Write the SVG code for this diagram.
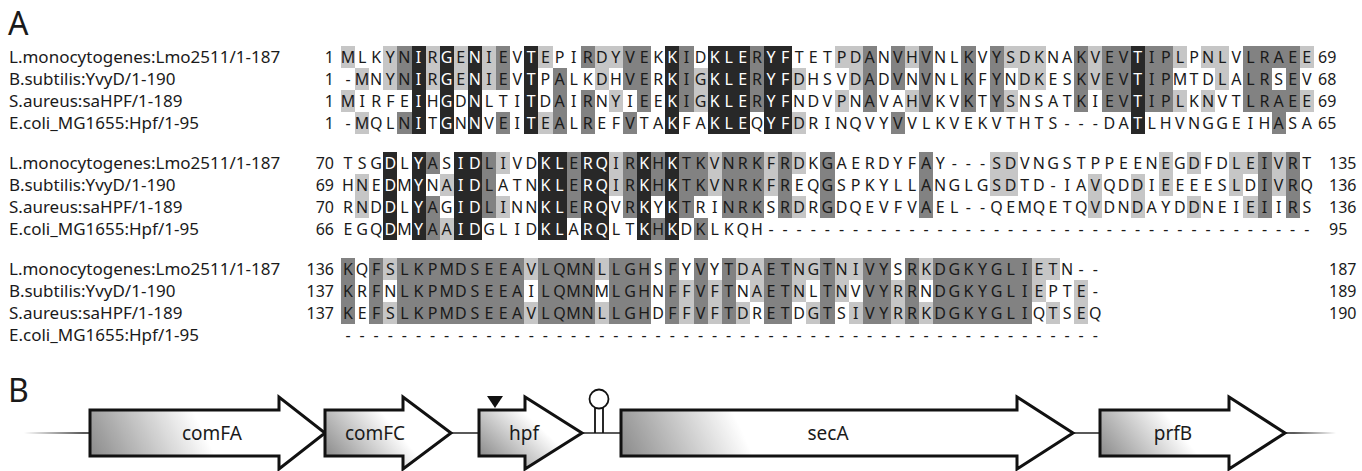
<svg xmlns="http://www.w3.org/2000/svg" width="1362" height="471" viewBox="0 0 1362 471">
<style>
.t{font-family:"Noto Sans","Open Sans",sans-serif;fill:#1a1a1a}
.lab{font-size:17px}
.s{font-size:16px;text-anchor:middle}
.w{fill:#fff}
.ne{font-size:16px;text-anchor:end}
.nr{font-size:16px}
.big{font-size:32px}
.gn{font-size:19px;text-anchor:middle}
.l{fill:#c6c6c6}
.m{fill:#828282}
.d{fill:#282828}
rect{shape-rendering:crispEdges}
.arr{stroke:#111;stroke-width:3;stroke-linejoin:miter}
</style>
<defs>
<linearGradient id="gA" gradientUnits="userSpaceOnUse" x1="90" y1="456" x2="190" y2="405"><stop offset="0" stop-color="#8a8a8a"/><stop offset="1" stop-color="#fff"/></linearGradient>
<linearGradient id="gC" gradientUnits="userSpaceOnUse" x1="325" y1="456" x2="380" y2="410"><stop offset="0" stop-color="#8a8a8a"/><stop offset="1" stop-color="#fff"/></linearGradient>
<linearGradient id="gH" gradientUnits="userSpaceOnUse" x1="479" y1="456" x2="522" y2="410"><stop offset="0" stop-color="#8a8a8a"/><stop offset="1" stop-color="#fff"/></linearGradient>
<linearGradient id="gS" gradientUnits="userSpaceOnUse" x1="621" y1="456" x2="730" y2="405"><stop offset="0" stop-color="#8a8a8a"/><stop offset="1" stop-color="#fff"/></linearGradient>
<linearGradient id="gP" gradientUnits="userSpaceOnUse" x1="1100" y1="456" x2="1162" y2="408"><stop offset="0" stop-color="#8a8a8a"/><stop offset="1" stop-color="#fff"/></linearGradient>
<linearGradient id="gL" gradientUnits="userSpaceOnUse" x1="24" y1="0" x2="1336" y2="0"><stop offset="0" stop-color="#fff"/><stop offset="0.045" stop-color="#222"/><stop offset="0.968" stop-color="#222"/><stop offset="1" stop-color="#fff"/></linearGradient>
</defs>
<rect x="0" y="0" width="1362" height="471" fill="#fff"/>

<g id="shading" transform="translate(341 0) scale(14.1 1)">
<g class="d">
<rect x="5" y="46" width="1" height="88"/><rect x="7" y="46" width="1" height="88"/><rect x="9" y="46" width="1" height="88"/><rect x="13" y="46" width="1" height="88"/><rect x="23" y="46" width="1" height="88"/><rect x="26" y="46" width="3" height="88"/><rect x="30" y="46" width="2" height="88"/><rect x="56" y="46" width="1" height="88"/>
<rect x="3" y="152" width="1" height="88"/><rect x="5" y="152" width="1" height="88"/><rect x="8" y="152" width="2" height="88"/><rect x="14" y="152" width="2" height="88"/><rect x="17" y="152" width="2" height="88"/><rect x="21" y="152" width="1" height="88"/><rect x="23" y="152" width="1" height="88"/>
</g>
<g class="l">
<rect x="0" y="46" width="1" height="22"/><rect x="3" y="46" width="1" height="22"/><rect x="6" y="46" width="1" height="22"/><rect x="8" y="46" width="1" height="22"/><rect x="10" y="46" width="1" height="22"/><rect x="14" y="46" width="1" height="22"/><rect x="18" y="46" width="2" height="22"/><rect x="35" y="46" width="2" height="22"/><rect x="40" y="46" width="1" height="22"/><rect x="47" y="46" width="3" height="22"/><rect x="53" y="46" width="1" height="22"/><rect x="59" y="46" width="1" height="22"/><rect x="61" y="46" width="2" height="22"/><rect x="68" y="46" width="1" height="22"/>
<rect x="1" y="68" width="1" height="22"/><rect x="3" y="68" width="1" height="22"/><rect x="6" y="68" width="1" height="22"/><rect x="8" y="68" width="1" height="22"/><rect x="10" y="68" width="1" height="22"/><rect x="18" y="68" width="1" height="22"/><rect x="25" y="68" width="1" height="22"/><rect x="32" y="68" width="1" height="22"/><rect x="36" y="68" width="1" height="22"/><rect x="48" y="68" width="2" height="22"/><rect x="53" y="68" width="1" height="22"/><rect x="62" y="68" width="1" height="22"/>
<rect x="0" y="90" width="1" height="22"/><rect x="19" y="90" width="1" height="22"/><rect x="25" y="90" width="1" height="22"/><rect x="35" y="90" width="1" height="22"/><rect x="40" y="90" width="1" height="22"/><rect x="47" y="90" width="1" height="22"/><rect x="59" y="90" width="1" height="22"/><rect x="61" y="90" width="1" height="22"/><rect x="68" y="90" width="1" height="22"/>
<rect x="1" y="112" width="1" height="22"/><rect x="14" y="112" width="1" height="22"/><rect x="32" y="112" width="1" height="22"/>
<rect x="11" y="152" width="1" height="22"/><rect x="19" y="152" width="1" height="22"/><rect x="26" y="152" width="1" height="22"/><rect x="30" y="152" width="1" height="22"/><rect x="32" y="152" width="1" height="22"/><rect x="46" y="152" width="2" height="22"/><rect x="58" y="152" width="1" height="22"/><rect x="60" y="152" width="1" height="22"/><rect x="63" y="152" width="2" height="22"/><rect x="66" y="152" width="1" height="22"/>
<rect x="1" y="174" width="1" height="22"/><rect x="7" y="174" width="1" height="22"/><rect x="19" y="174" width="1" height="22"/><rect x="26" y="174" width="1" height="22"/><rect x="30" y="174" width="1" height="22"/><rect x="46" y="174" width="2" height="22"/><rect x="53" y="174" width="1" height="22"/><rect x="56" y="174" width="1" height="22"/><rect x="58" y="174" width="1" height="22"/><rect x="63" y="174" width="1" height="22"/><rect x="66" y="174" width="1" height="22"/>
<rect x="1" y="196" width="1" height="22"/><rect x="11" y="196" width="1" height="22"/><rect x="32" y="196" width="1" height="22"/><rect x="53" y="196" width="1" height="22"/><rect x="56" y="196" width="1" height="22"/><rect x="60" y="196" width="1" height="22"/><rect x="64" y="196" width="1" height="22"/>
<rect x="7" y="218" width="1" height="22"/>
<rect x="3" y="258" width="1" height="22"/><rect x="13" y="258" width="1" height="22"/><rect x="18" y="258" width="1" height="22"/><rect x="28" y="258" width="2" height="22"/><rect x="32" y="258" width="2" height="22"/><rect x="35" y="258" width="2" height="22"/><rect x="41" y="258" width="1" height="22"/><rect x="49" y="258" width="2" height="22"/>
<rect x="24" y="280" width="1" height="22"/><rect x="26" y="280" width="1" height="22"/><rect x="29" y="280" width="1" height="22"/><rect x="32" y="280" width="1" height="22"/><rect x="35" y="280" width="1" height="22"/><rect x="39" y="280" width="1" height="22"/><rect x="49" y="280" width="1" height="22"/><rect x="52" y="280" width="1" height="22"/>
<rect x="3" y="302" width="1" height="22"/><rect x="13" y="302" width="1" height="22"/><rect x="18" y="302" width="1" height="22"/><rect x="24" y="302" width="1" height="22"/><rect x="26" y="302" width="1" height="22"/><rect x="28" y="302" width="1" height="22"/><rect x="33" y="302" width="1" height="22"/><rect x="36" y="302" width="1" height="22"/><rect x="39" y="302" width="1" height="22"/><rect x="41" y="302" width="1" height="22"/><rect x="50" y="302" width="1" height="22"/><rect x="52" y="302" width="1" height="22"/>
</g>
<g class="m">
<rect x="4" y="46" width="1" height="22"/><rect x="11" y="46" width="1" height="22"/><rect x="17" y="46" width="1" height="22"/><rect x="20" y="46" width="2" height="22"/><rect x="24" y="46" width="1" height="22"/><rect x="29" y="46" width="1" height="22"/><rect x="37" y="46" width="1" height="22"/><rect x="39" y="46" width="1" height="22"/><rect x="41" y="46" width="1" height="22"/><rect x="44" y="46" width="1" height="22"/><rect x="46" y="46" width="1" height="22"/><rect x="52" y="46" width="1" height="22"/><rect x="54" y="46" width="2" height="22"/><rect x="57" y="46" width="2" height="22"/><rect x="64" y="46" width="4" height="22"/>
<rect x="4" y="68" width="1" height="22"/><rect x="11" y="68" width="1" height="22"/><rect x="15" y="68" width="1" height="22"/><rect x="20" y="68" width="2" height="22"/><rect x="24" y="68" width="1" height="22"/><rect x="29" y="68" width="1" height="22"/><rect x="37" y="68" width="1" height="22"/><rect x="39" y="68" width="1" height="22"/><rect x="41" y="68" width="1" height="22"/><rect x="44" y="68" width="1" height="22"/><rect x="46" y="68" width="1" height="22"/><rect x="52" y="68" width="1" height="22"/><rect x="54" y="68" width="2" height="22"/><rect x="57" y="68" width="2" height="22"/><rect x="64" y="68" width="2" height="22"/><rect x="67" y="68" width="1" height="22"/>
<rect x="15" y="90" width="1" height="22"/><rect x="17" y="90" width="1" height="22"/><rect x="21" y="90" width="1" height="22"/><rect x="24" y="90" width="1" height="22"/><rect x="29" y="90" width="1" height="22"/><rect x="37" y="90" width="1" height="22"/><rect x="41" y="90" width="1" height="22"/><rect x="44" y="90" width="1" height="22"/><rect x="46" y="90" width="1" height="22"/><rect x="52" y="90" width="1" height="22"/><rect x="54" y="90" width="2" height="22"/><rect x="57" y="90" width="2" height="22"/><rect x="64" y="90" width="4" height="22"/>
<rect x="4" y="112" width="1" height="22"/><rect x="11" y="112" width="1" height="22"/><rect x="15" y="112" width="1" height="22"/><rect x="17" y="112" width="1" height="22"/><rect x="20" y="112" width="1" height="22"/><rect x="39" y="112" width="1" height="22"/><rect x="66" y="112" width="1" height="22"/>
<rect x="6" y="152" width="1" height="22"/><rect x="10" y="152" width="1" height="22"/><rect x="16" y="152" width="1" height="22"/><rect x="20" y="152" width="1" height="22"/><rect x="22" y="152" width="1" height="22"/><rect x="24" y="152" width="2" height="22"/><rect x="27" y="152" width="3" height="22"/><rect x="31" y="152" width="1" height="22"/><rect x="34" y="152" width="1" height="22"/><rect x="41" y="152" width="1" height="22"/><rect x="65" y="152" width="1" height="22"/><rect x="67" y="152" width="1" height="22"/>
<rect x="10" y="174" width="1" height="22"/><rect x="16" y="174" width="1" height="22"/><rect x="20" y="174" width="1" height="22"/><rect x="22" y="174" width="1" height="22"/><rect x="24" y="174" width="2" height="22"/><rect x="27" y="174" width="3" height="22"/><rect x="31" y="174" width="1" height="22"/><rect x="34" y="174" width="1" height="22"/><rect x="41" y="174" width="1" height="22"/><rect x="65" y="174" width="1" height="22"/><rect x="67" y="174" width="1" height="22"/>
<rect x="6" y="196" width="1" height="22"/><rect x="10" y="196" width="1" height="22"/><rect x="16" y="196" width="1" height="22"/><rect x="20" y="196" width="1" height="22"/><rect x="24" y="196" width="1" height="22"/><rect x="27" y="196" width="3" height="22"/><rect x="31" y="196" width="1" height="22"/><rect x="34" y="196" width="1" height="22"/><rect x="41" y="196" width="1" height="22"/><rect x="65" y="196" width="1" height="22"/><rect x="67" y="196" width="1" height="22"/>
<rect x="6" y="218" width="1" height="22"/><rect x="22" y="218" width="1" height="22"/><rect x="25" y="218" width="1" height="22"/>
<rect x="0" y="258" width="1" height="66"/><rect x="2" y="258" width="1" height="66"/><rect x="4" y="258" width="9" height="66"/><rect x="14" y="258" width="4" height="66"/><rect x="19" y="258" width="3" height="66"/><rect x="23" y="258" width="1" height="66"/><rect x="25" y="258" width="1" height="66"/><rect x="27" y="258" width="1" height="66"/><rect x="30" y="258" width="2" height="66"/><rect x="34" y="258" width="1" height="66"/><rect x="37" y="258" width="2" height="66"/><rect x="40" y="258" width="1" height="66"/><rect x="42" y="258" width="7" height="66"/>
</g>
</g>

<g id="panel-labels" class="t">
<text class="big" x="8" y="35">A</text>
<text class="big" x="8" y="402">B</text>
</g>

<g id="seq-names" class="t lab">
<text x="9" y="63">L.monocytogenes:Lmo2511/1-187</text>
<text x="9" y="85">B.subtilis:YvyD/1-190</text>
<text x="9" y="107">S.aureus:saHPF/1-189</text>
<text x="9" y="129">E.coli_MG1655:Hpf/1-95</text>
<text x="9" y="169">L.monocytogenes:Lmo2511/1-187</text>
<text x="9" y="191">B.subtilis:YvyD/1-190</text>
<text x="9" y="213">S.aureus:saHPF/1-189</text>
<text x="9" y="235">E.coli_MG1655:Hpf/1-95</text>
<text x="9" y="275">L.monocytogenes:Lmo2511/1-187</text>
<text x="9" y="297">B.subtilis:YvyD/1-190</text>
<text x="9" y="319">S.aureus:saHPF/1-189</text>
<text x="9" y="341">E.coli_MG1655:Hpf/1-95</text>
</g>

<g id="numbers" class="t">
<text class="ne" x="334" y="63">1</text><text class="ne" x="334" y="85">1</text><text class="ne" x="334" y="107">1</text><text class="ne" x="334" y="129">1</text>
<text class="ne" x="334" y="169">70</text><text class="ne" x="334" y="191">69</text><text class="ne" x="334" y="213">70</text><text class="ne" x="334" y="235">66</text>
<text class="ne" x="334" y="275">136</text><text class="ne" x="334" y="297">137</text><text class="ne" x="334" y="319">137</text>
<text class="nr" x="1318" y="63">69</text><text class="nr" x="1318" y="85">68</text><text class="nr" x="1318" y="107">69</text><text class="nr" x="1318" y="129">65</text>
<text class="nr" x="1329" y="169">135</text><text class="nr" x="1329" y="191">136</text><text class="nr" x="1329" y="213">136</text><text class="nr" x="1329" y="235">95</text>
<text class="nr" x="1329" y="275">187</text><text class="nr" x="1329" y="297">189</text><text class="nr" x="1329" y="319">190</text>
</g>

<g id="sequences" class="t s">
<text x="348 362.1 376.2 390.3 404.4 418.5 432.6 446.7 460.8 474.9 489 503.1 517.2 531.3 545.4 559.5 573.6 587.7 601.8 615.9 630 644.1 658.2 672.3 686.4 700.5 714.6 728.7 742.8 756.9 771 785.1 799.2 813.3 827.4 841.5 855.6 869.7 883.8 897.9 912 926.1 940.2 954.3 968.4 982.5 996.6 1010.7 1024.8 1038.9 1053 1067.1 1081.2 1095.3 1109.4 1123.5 1137.6 1151.7 1165.8 1179.9 1194 1208.1 1222.2 1236.3 1250.4 1264.5 1278.6 1292.7 1306.8" y="63">MLKYN<tspan class="w">I</tspan>R<tspan class="w">G</tspan>E<tspan class="w">N</tspan>IEV<tspan class="w">T</tspan>EPIRDYVEK<tspan class="w">K</tspan>ID<tspan class="w">KLE</tspan>R<tspan class="w">YF</tspan>TETPDANVHVNLKVYSDKNAKVEV<tspan class="w">T</tspan>IPLPNLVLRAEE</text>
<text x="348 362.1 376.2 390.3 404.4 418.5 432.6 446.7 460.8 474.9 489 503.1 517.2 531.3 545.4 559.5 573.6 587.7 601.8 615.9 630 644.1 658.2 672.3 686.4 700.5 714.6 728.7 742.8 756.9 771 785.1 799.2 813.3 827.4 841.5 855.6 869.7 883.8 897.9 912 926.1 940.2 954.3 968.4 982.5 996.6 1010.7 1024.8 1038.9 1053 1067.1 1081.2 1095.3 1109.4 1123.5 1137.6 1151.7 1165.8 1179.9 1194 1208.1 1222.2 1236.3 1250.4 1264.5 1278.6 1292.7 1306.8" y="85">-MNYN<tspan class="w">I</tspan>R<tspan class="w">G</tspan>E<tspan class="w">N</tspan>IEV<tspan class="w">T</tspan>PALKDHVER<tspan class="w">K</tspan>IG<tspan class="w">KLE</tspan>R<tspan class="w">YF</tspan>DHSVDADVNVNLKFYNDKESKVEV<tspan class="w">T</tspan>IPMTDLALRSEV</text>
<text x="348 362.1 376.2 390.3 404.4 418.5 432.6 446.7 460.8 474.9 489 503.1 517.2 531.3 545.4 559.5 573.6 587.7 601.8 615.9 630 644.1 658.2 672.3 686.4 700.5 714.6 728.7 742.8 756.9 771 785.1 799.2 813.3 827.4 841.5 855.6 869.7 883.8 897.9 912 926.1 940.2 954.3 968.4 982.5 996.6 1010.7 1024.8 1038.9 1053 1067.1 1081.2 1095.3 1109.4 1123.5 1137.6 1151.7 1165.8 1179.9 1194 1208.1 1222.2 1236.3 1250.4 1264.5 1278.6 1292.7 1306.8" y="107">MIRFE<tspan class="w">I</tspan>H<tspan class="w">G</tspan>D<tspan class="w">N</tspan>LTI<tspan class="w">T</tspan>DAIRNYIEE<tspan class="w">K</tspan>IG<tspan class="w">KLE</tspan>R<tspan class="w">YF</tspan>NDVPNAVAHVKVKTYSNSATKIEV<tspan class="w">T</tspan>IPLKNVTLRAEE</text>
<text x="348 362.1 376.2 390.3 404.4 418.5 432.6 446.7 460.8 474.9 489 503.1 517.2 531.3 545.4 559.5 573.6 587.7 601.8 615.9 630 644.1 658.2 672.3 686.4 700.5 714.6 728.7 742.8 756.9 771 785.1 799.2 813.3 827.4 841.5 855.6 869.7 883.8 897.9 912 926.1 940.2 954.3 968.4 982.5 996.6 1010.7 1024.8 1038.9 1053 1067.1 1081.2 1095.3 1109.4 1123.5 1137.6 1151.7 1165.8 1179.9 1194 1208.1 1222.2 1236.3 1250.4 1264.5 1278.6 1292.7 1306.8" y="129">-MQLN<tspan class="w">I</tspan>T<tspan class="w">G</tspan>N<tspan class="w">N</tspan>VEI<tspan class="w">T</tspan>EALREFVTA<tspan class="w">K</tspan>FA<tspan class="w">KLE</tspan>Q<tspan class="w">YF</tspan>DRINQVYVVLKVEKVTHTS---DA<tspan class="w">T</tspan>LHVNGGEIHASA</text>

<text x="348 362.1 376.2 390.3 404.4 418.5 432.6 446.7 460.8 474.9 489 503.1 517.2 531.3 545.4 559.5 573.6 587.7 601.8 615.9 630 644.1 658.2 672.3 686.4 700.5 714.6 728.7 742.8 756.9 771 785.1 799.2 813.3 827.4 841.5 855.6 869.7 883.8 897.9 912 926.1 940.2 954.3 968.4 982.5 996.6 1010.7 1024.8 1038.9 1053 1067.1 1081.2 1095.3 1109.4 1123.5 1137.6 1151.7 1165.8 1179.9 1194 1208.1 1222.2 1236.3 1250.4 1264.5 1278.6 1292.7 1306.8" y="169">TSG<tspan class="w">D</tspan>L<tspan class="w">Y</tspan>AS<tspan class="w">ID</tspan>LIVD<tspan class="w">KL</tspan>E<tspan class="w">RQ</tspan>IR<tspan class="w">K</tspan>H<tspan class="w">K</tspan>TKVNRKFRDKGAERDYFAY---SDVNGSTPPEENEGDFDLEIVRT</text>
<text x="348 362.1 376.2 390.3 404.4 418.5 432.6 446.7 460.8 474.9 489 503.1 517.2 531.3 545.4 559.5 573.6 587.7 601.8 615.9 630 644.1 658.2 672.3 686.4 700.5 714.6 728.7 742.8 756.9 771 785.1 799.2 813.3 827.4 841.5 855.6 869.7 883.8 897.9 912 926.1 940.2 954.3 968.4 982.5 996.6 1010.7 1024.8 1038.9 1053 1067.1 1081.2 1095.3 1109.4 1123.5 1137.6 1151.7 1165.8 1179.9 1194 1208.1 1222.2 1236.3 1250.4 1264.5 1278.6 1292.7 1306.8" y="191">HNE<tspan class="w">D</tspan>M<tspan class="w">Y</tspan>NA<tspan class="w">ID</tspan>LATN<tspan class="w">KL</tspan>E<tspan class="w">RQ</tspan>IR<tspan class="w">K</tspan>H<tspan class="w">K</tspan>TKVNRKFREQGSPKYLLANGLGSDTD-IAVQDDIEEEESLDIVRQ</text>
<text x="348 362.1 376.2 390.3 404.4 418.5 432.6 446.7 460.8 474.9 489 503.1 517.2 531.3 545.4 559.5 573.6 587.7 601.8 615.9 630 644.1 658.2 672.3 686.4 700.5 714.6 728.7 742.8 756.9 771 785.1 799.2 813.3 827.4 841.5 855.6 869.7 883.8 897.9 912 926.1 940.2 954.3 968.4 982.5 996.6 1010.7 1024.8 1038.9 1053 1067.1 1081.2 1095.3 1109.4 1123.5 1137.6 1151.7 1165.8 1179.9 1194 1208.1 1222.2 1236.3 1250.4 1264.5 1278.6 1292.7 1306.8" y="213">RND<tspan class="w">D</tspan>L<tspan class="w">Y</tspan>AG<tspan class="w">ID</tspan>LINN<tspan class="w">KL</tspan>E<tspan class="w">RQ</tspan>VR<tspan class="w">K</tspan>Y<tspan class="w">K</tspan>TRINRKSRDRGDQEVFVAEL--QEMQETQVDNDAYDDNEIEIIRS</text>
<text x="348 362.1 376.2 390.3 404.4 418.5 432.6 446.7 460.8 474.9 489 503.1 517.2 531.3 545.4 559.5 573.6 587.7 601.8 615.9 630 644.1 658.2 672.3 686.4 700.5 714.6 728.7 742.8 756.9 771 785.1 799.2 813.3 827.4 841.5 855.6 869.7 883.8 897.9 912 926.1 940.2 954.3 968.4 982.5 996.6 1010.7 1024.8 1038.9 1053 1067.1 1081.2 1095.3 1109.4 1123.5 1137.6 1151.7 1165.8 1179.9 1194 1208.1 1222.2 1236.3 1250.4 1264.5 1278.6 1292.7 1306.8" y="235">EGQ<tspan class="w">D</tspan>M<tspan class="w">Y</tspan>AA<tspan class="w">ID</tspan>GLID<tspan class="w">KL</tspan>A<tspan class="w">RQ</tspan>LT<tspan class="w">K</tspan>H<tspan class="w">K</tspan>DKLKQH---------------------------------------</text>

<text x="348 362.1 376.2 390.3 404.4 418.5 432.6 446.7 460.8 474.9 489 503.1 517.2 531.3 545.4 559.5 573.6 587.7 601.8 615.9 630 644.1 658.2 672.3 686.4 700.5 714.6 728.7 742.8 756.9 771 785.1 799.2 813.3 827.4 841.5 855.6 869.7 883.8 897.9 912 926.1 940.2 954.3 968.4 982.5 996.6 1010.7 1024.8 1038.9 1053 1067.1 1081.2 1095.3" y="275">KQFSLKPMDSEEAVLQMNLLGHSFYVYTDAETNGTNIVYSRKDGKYGLIETN--</text>
<text x="348 362.1 376.2 390.3 404.4 418.5 432.6 446.7 460.8 474.9 489 503.1 517.2 531.3 545.4 559.5 573.6 587.7 601.8 615.9 630 644.1 658.2 672.3 686.4 700.5 714.6 728.7 742.8 756.9 771 785.1 799.2 813.3 827.4 841.5 855.6 869.7 883.8 897.9 912 926.1 940.2 954.3 968.4 982.5 996.6 1010.7 1024.8 1038.9 1053 1067.1 1081.2 1095.3" y="297">KRFNLKPMDSEEAILQMNMLGHNFFVFTNAETNLTNVVYRRNDGKYGLIEPTE-</text>
<text x="348 362.1 376.2 390.3 404.4 418.5 432.6 446.7 460.8 474.9 489 503.1 517.2 531.3 545.4 559.5 573.6 587.7 601.8 615.9 630 644.1 658.2 672.3 686.4 700.5 714.6 728.7 742.8 756.9 771 785.1 799.2 813.3 827.4 841.5 855.6 869.7 883.8 897.9 912 926.1 940.2 954.3 968.4 982.5 996.6 1010.7 1024.8 1038.9 1053 1067.1 1081.2 1095.3" y="319">KEFSLKPMDSEEAVLQMNLLGHDFFVFTDRETDGTSIVYRRKDGKYGLIQTSEQ</text>
<text x="348 362.1 376.2 390.3 404.4 418.5 432.6 446.7 460.8 474.9 489 503.1 517.2 531.3 545.4 559.5 573.6 587.7 601.8 615.9 630 644.1 658.2 672.3 686.4 700.5 714.6 728.7 742.8 756.9 771 785.1 799.2 813.3 827.4 841.5 855.6 869.7 883.8 897.9 912 926.1 940.2 954.3 968.4 982.5 996.6 1010.7 1024.8 1038.9 1053 1067.1 1081.2 1095.3" y="341">------------------------------------------------------</text>
</g>

<g id="connectors">
<line x1="24" y1="433" x2="1336" y2="433" stroke="url(#gL)" stroke-width="1.6"/>
</g>

<g id="gene-comFA">
<path class="arr" fill="url(#gA)" d="M90,410 L279,410 L279,397 L325,433 L279,469 L279,456 L90,456 Z"/>
<text class="t gn" x="212" y="440">comFA</text>
</g>
<g id="gene-comFC">
<path class="arr" fill="url(#gC)" d="M325,410 L403,410 L403,397 L451,433 L403,469 L403,456 L325,456 Z"/>
<text class="t gn" x="375" y="440">comFC</text>
</g>
<g id="gene-hpf">
<path class="arr" fill="url(#gH)" d="M479,410 L525,410 L525,397 L582,433 L525,469 L525,456 L479,456 Z"/>
<text class="t gn" x="524" y="440">hpf</text>
</g>
<g id="promoter-marker">
<polygon points="487,396 503,396 495,408" fill="#111"/>
</g>
<g id="terminator">
<line x1="595" y1="408" x2="595" y2="433" stroke="#111" stroke-width="1.8"/>
<line x1="603" y1="408" x2="603" y2="433" stroke="#111" stroke-width="1.8"/>
<circle cx="599" cy="399" r="9.5" fill="#fff" stroke="#111" stroke-width="1.8"/>
</g>
<g id="gene-secA">
<path class="arr" fill="url(#gS)" d="M621,410 L1017,410 L1017,397 L1073,433 L1017,469 L1017,456 L621,456 Z"/>
<text class="t gn" x="828" y="440">secA</text>
</g>
<g id="gene-prfB">
<path class="arr" fill="url(#gP)" d="M1100,410 L1229,410 L1229,397 L1285,433 L1229,469 L1229,456 L1100,456 Z"/>
<text class="t gn" x="1173" y="440">prfB</text>
</g>
</svg>
